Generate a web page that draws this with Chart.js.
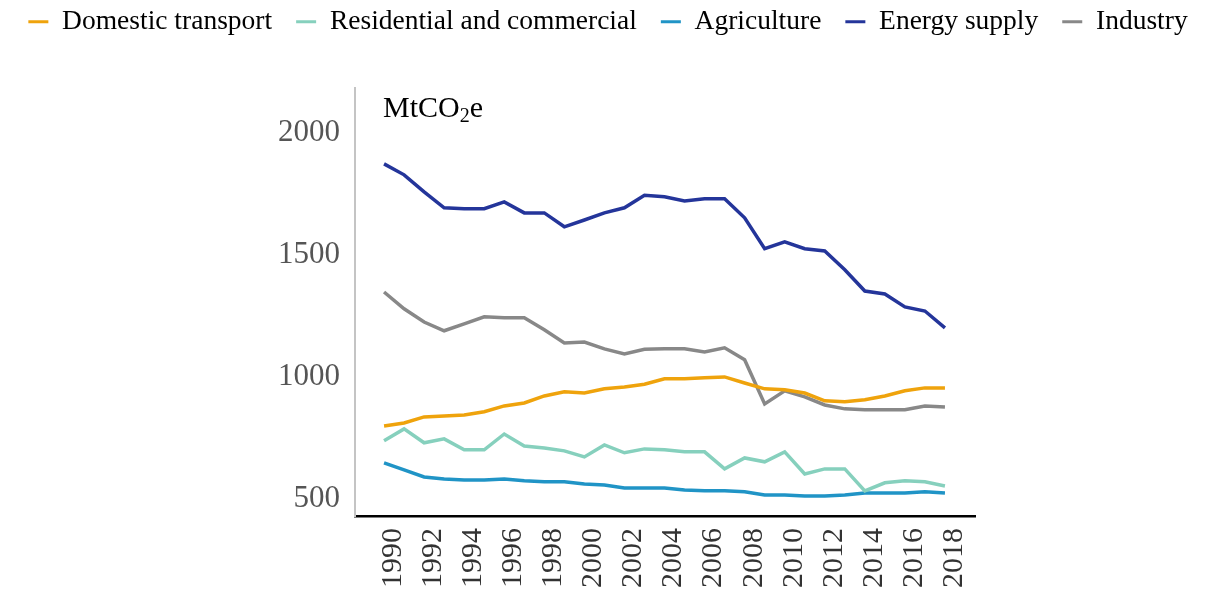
<!DOCTYPE html>
<html id="html">
<head>
<meta charset="utf-8">
<title>Emissions by sector</title>
<script src="https://cdn.jsdelivr.net/npm/chart.js@4.4.1/dist/chart.umd.min.js"></script>
<style>
  body { margin: 0; background: #fff; }
  #wrap { width: 1216px; height: 592px; position: relative; }
</style>
</head>
<body>
<div id="wrap"><canvas id="myChart"></canvas></div>
<script>
// data (MtCO2e)
const years = [1990, 1991, 1992, 1993, 1994, 1995, 1996, 1997, 1998, 1999,
               2000, 2001, 2002, 2003, 2004, 2005, 2006, 2007, 2008, 2009,
               2010, 2011, 2012, 2013, 2014, 2015, 2016, 2017, 2018]
const transport = [799, 811, 836, 840, 844, 857, 881, 893, 922, 939, 934, 951, 959, 970,
                   992, 992, 996, 1000, 975, 951, 947, 934, 902, 898, 906, 922, 943, 955, 955]
const residential = [738, 787, 730, 746, 701, 701, 766, 717, 709, 697, 672, 721, 689, 705,
                     701, 693, 693, 623, 668, 652, 693, 602, 623, 623, 533, 566, 574, 570, 553]
const agriculture = [648, 619, 590, 582, 578, 578, 582, 574, 570, 570, 561, 557, 545, 545,
                     545, 537, 533, 533, 529, 516, 516, 512, 512, 516, 524, 524, 524, 529, 524]
const energy = [1873, 1828, 1758, 1693, 1689, 1689, 1717, 1672, 1672, 1615, 1643, 1672, 1693, 1744,
                1738, 1721, 1730, 1730, 1652, 1525, 1553, 1525, 1516, 1439, 1352, 1340, 1287, 1270, 1201]
const industry = [1348, 1279, 1225, 1189, 1217, 1246, 1242, 1242, 1193, 1139, 1143, 1115, 1094, 1113,
                  1115, 1115, 1102, 1119, 1070, 889, 943, 918, 885, 869, 865, 865, 865, 881, 877]
const xTicks = [1990, 1992, 1994, 1996, 1998, 2000, 2002, 2004, 2006, 2008, 2010, 2012, 2014, 2016, 2018]
const yTicks = [500, 1000, 1500, 2000]

const serif = '"Liberation Serif", "Times New Roman", serif'

const series = [
    { label: 'Domestic transport', values: transport, color: '#efa30c' },
    { label: 'Residential and commercial', values: residential, color: '#86d0bd' },
    { label: 'Agriculture', values: agriculture, color: '#2094c6' },
    { label: 'Energy supply', values: energy, color: '#24359a' },
    { label: 'Industry', values: industry, color: '#888888' }
]

// "MtCO2e" unit label with a subscript 2
const unitLabel = {
    id: 'unitLabel',
    afterDraw(chart) {
        const ctx = chart.ctx
        const x0 = chart.chartArea.left + 28
        const y0 = chart.chartArea.top + 29
        ctx.save()
        ctx.fillStyle = '#000'
        ctx.textBaseline = 'alphabetic'
        ctx.textAlign = 'left'
        ctx.font = '30px ' + serif
        ctx.fillText('MtCO', x0, y0)
        let x = x0 + ctx.measureText('MtCO').width
        ctx.font = '20px ' + serif
        ctx.fillText('2', x, y0 + 5)
        x += ctx.measureText('2').width
        ctx.font = '30px ' + serif
        ctx.fillText('e', x, y0)
        ctx.restore()
    }
}

const ctx = document.getElementById('myChart')
// eslint-disable-next-line no-unused-vars
const myChart = new Chart(ctx, {
    type: 'line',
    data: {
        datasets: series.map(s => ({
            label: s.label,
            data: years.map((yr, i) => ({ x: yr, y: s.values[i] })),
            borderColor: s.color,
            backgroundColor: s.color,
            borderWidth: 3.5,
            pointRadius: 0,
            tension: 0
        }))
    },
    options: {
        responsive: true,
        maintainAspectRatio: false,
        animation: false,
        layout: { padding: { top: -16, left: 0, right: 0, bottom: 0 } },
        scales: {
            x: {
                type: 'linear',
                min: 1988.55,
                max: 2019.5,
                afterBuildTicks: scale => { scale.ticks = xTicks.map(v => ({ value: v })) },
                afterFit: scale => { scale.height = 76 },
                grid: { display: false, drawTicks: false },
                border: { display: true, color: '#000', width: 2.5 },
                ticks: {
                    autoSkip: false,
                    minRotation: 90,
                    maxRotation: 90,
                    padding: 12,
                    labelOffset: 9,
                    color: '#333',
                    font: { family: serif, size: 30 },
                    callback: v => String(v)
                }
            },
            y: {
                min: 430,
                max: 2185,
                afterBuildTicks: scale => { scale.ticks = yTicks.map(v => ({ value: v })) },
                afterFit: scale => { scale.width = 355 },
                grid: { display: false, drawTicks: false },
                border: { display: true, color: '#c4c4c4', width: 2 },
                ticks: {
                    padding: 15,
                    color: '#555',
                    font: { family: serif, size: 31 },
                    callback: v => String(v)
                }
            },
            // empty axis, only keeps the white space right of the plot
            spacer: {
                type: 'linear',
                position: 'right',
                afterFit: scale => { scale.width = 241 },
                grid: { display: false, drawTicks: false },
                border: { display: false },
                ticks: { display: false }
            }
        },
        plugins: {
            title: {
                display: true,
                text: ' ',
                weight: 500,
                font: { size: 1 },
                padding: { top: 41, bottom: 0 }
            },
            legend: {
                display: true,
                position: 'top',
                labels: {
                    boxWidth: 20,
                    boxHeight: 3,
                    padding: 24,
                    color: '#000',
                    font: { family: serif, size: 27.5 },
                    generateLabels: chart => Chart.defaults.plugins.legend.labels.generateLabels(chart)
                        .map(item => Object.assign(item, { lineWidth: 0 }))
                }
            },
            tooltip: { enabled: false }
        }
    },
    plugins: [unitLabel]
})
</script>
</body>
</html>
